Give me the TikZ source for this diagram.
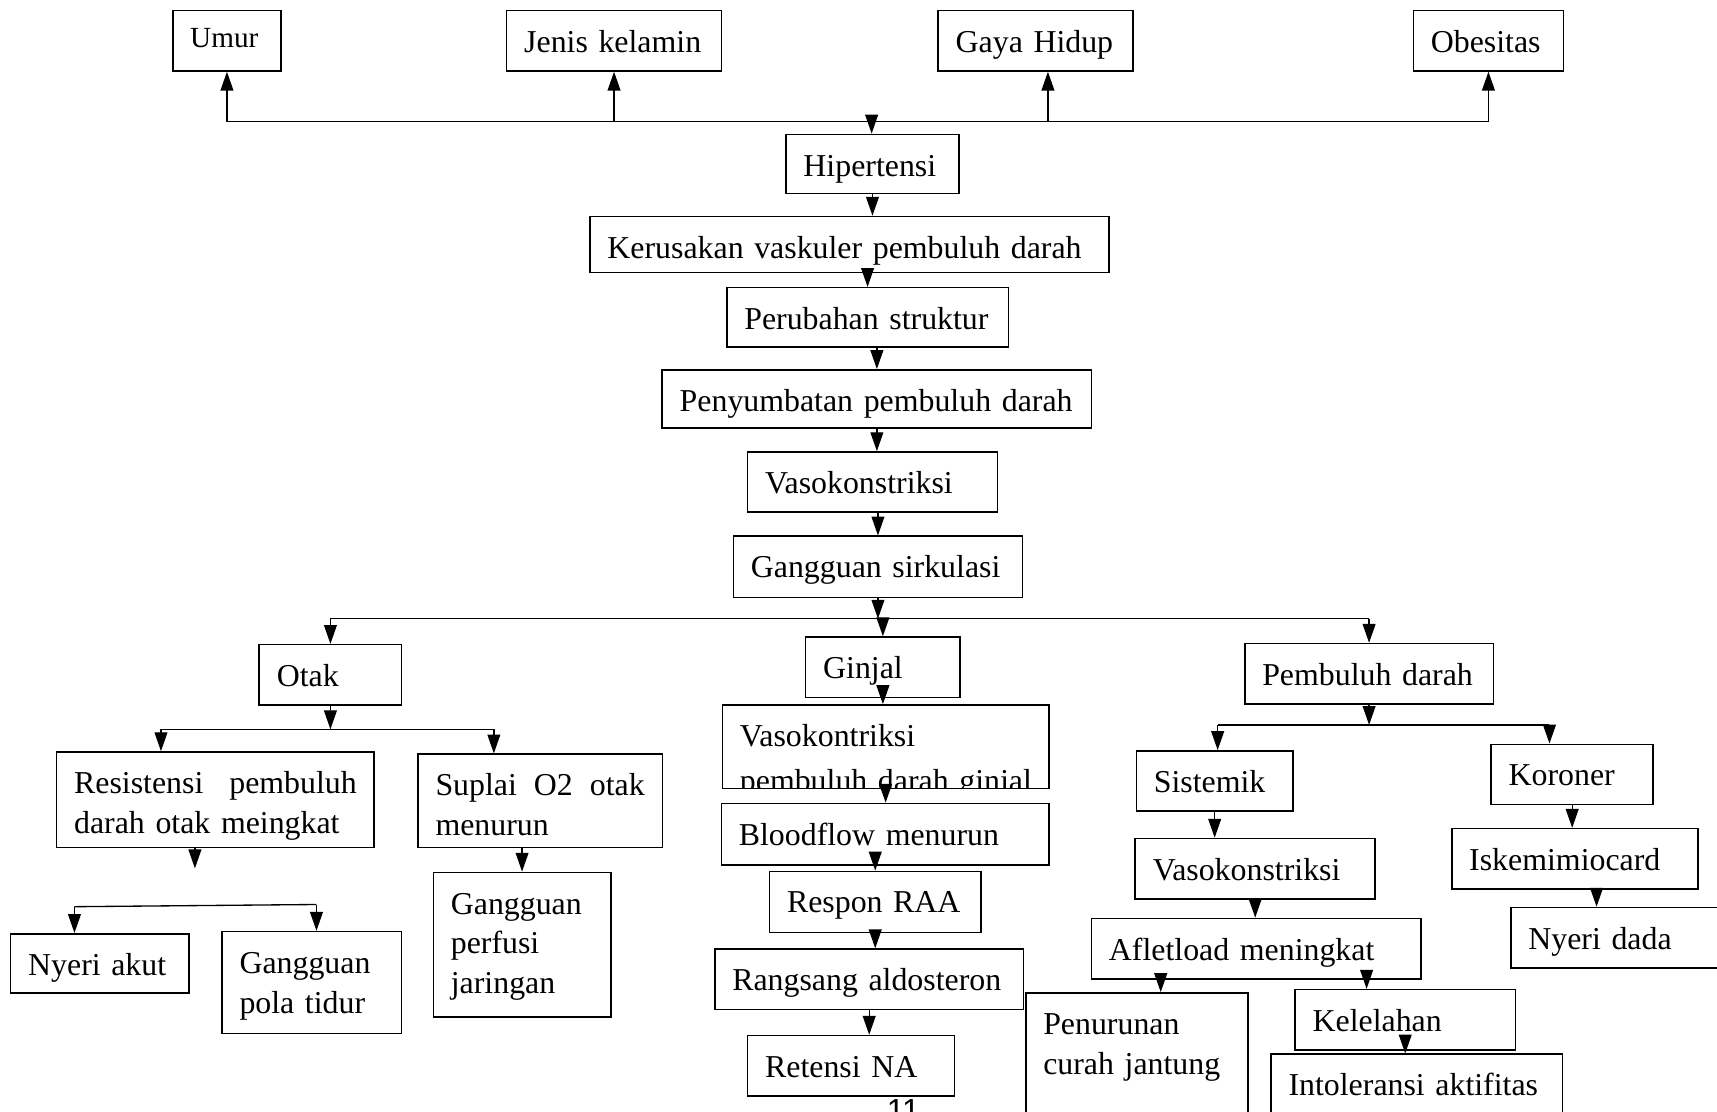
\documentclass[tikz,border=0pt]{standalone}
\usepackage{fontspec}
\setmainfont{Liberation Serif}
\setsansfont{Liberation Sans}
\usepackage{tikz}
\usetikzlibrary{arrows.meta,calc,positioning}
\tikzstyle{edge}  =[-{Triangle[length=0.25cm,width=0.17cm]},
                    line width=0.5pt]
\tikzstyle{bus}   =[line width=0.5pt]
\tikzstyle{box}   =[draw, rectangle, anchor=north west, align=left,
                    line width=0.6pt, inner xsep=0.232cm, inner ysep=0pt,
                    text height=0.551cm,
                    font=\fontsize{12}{15}\selectfont]

\begin{document}
\begin{tikzpicture}[x=0.0145cm,y=-0.0145cm]
    \useasboundingbox (0,0) rectangle (1568,1015);

    % faktor risiko
    \node (umur)  [box, text width=0.972cm, text height=0.486cm, text depth=0.312cm,
                   font=\fontsize{11}{13}\selectfont] at (157,9) {Umur};
    \node (jenis) [box, text width=2.378cm, text depth=0.247cm] at (462,9) {Jenis kelamin};
    \node (gaya)  [box, text width=2.117cm, text depth=0.247cm] at (856,9) {Gaya Hidup};
    \node (obes)  [box, text width=1.523cm, text depth=0.247cm] at (1290,9) {Obesitas};

    % alur utama
    \node (hip)    [box, text width=1.827cm, text depth=0.232cm] at (717,122) {Hipertensi};
    \node (ker)    [box, text width=6.409cm, text depth=0.189cm] at (538,197) {Kerusakan vaskuler pembuluh darah};
    \node (per)    [box, text width=3.263cm, text depth=0.232cm] at (663,262) {Perubahan struktur};
    \node (sumbat) [box, text width=5.220cm, text depth=0.218cm] at (604,337) {Penyumbatan pembuluh darah};
    \node (vaso)   [box, text width=2.842cm, text depth=0.247cm] at (682,412) {Vasokonstriksi};
    \node (sirk)   [box, text width=3.364cm, text depth=0.261cm] at (669,489) {Gangguan sirkulasi};

    % otak
    \node (otak)    [box, text width=1.421cm, text depth=0.247cm] at (236,588) {Otak};
    \node (resis)   [box, text width=3.741cm, text depth=0.711cm] at (51,686)
                    {Resistensi\hfill pembuluh\\darah otak meingkat};
    \node (suplai)  [box, text width=2.770cm, text depth=0.682cm] at (381,688)
                    {Suplai\hfill O2\hfill otak\\menurun};
    \node (nyeri)   [box, text width=1.900cm, text depth=0.232cm] at (9,852) {Nyeri akut};
    \node (tidur)   [box, text width=1.914cm, text depth=0.798cm] at (202,850) {Gangguan\\pola tidur};
    \node (perfusi) [box, text width=1.885cm, text depth=1.363cm] at (395,796)
                    {Gangguan\\perfusi\\jaringan};

    % ginjal
    \node (ginjal) [box, text width=1.581cm, text depth=0.247cm] at (735,581) {Ginjal};
    \begin{scope}
        \clip (650,635) rectangle (965,720.4);
        \node (vpg) [box, text width=3.857cm, text depth=0.566cm]
                    at (659,643) {Vasokontriksi\\[2pt]\mbox{pembuluh darah ginjal}};
    \end{scope}
    \node (blood)   [box, text width=3.872cm, text depth=0.261cm] at (658,733) {Bloodflow menurun};
    \node (raa)     [box, text width=2.335cm, text depth=0.261cm] at (702,795) {Respon RAA};
    \node (aldo)    [box, text width=3.625cm, text depth=0.247cm] at (652,866) {Rangsang aldosteron};
    \node (retensi) [box, text width=2.277cm, text depth=0.247cm] at (682,945) {Retensi NA};

    % pembuluh darah
    \node (pd)    [box, text width=2.828cm, text depth=0.247cm] at (1136,587) {Pembuluh darah};
    \node (sis)   [box, text width=1.610cm, text depth=0.247cm] at (1037,685) {Sistemik};
    \node (vk2)   [box, text width=2.712cm, text depth=0.247cm] at (1036,765) {Vasokonstriksi};
    \node (aft)   [box, text width=3.901cm, text depth=0.247cm] at (996,838) {Afletload meningkat};
    \node (curah) [box, text width=2.480cm, text depth=1.6cm]
                  at (936,906) {Penurunan\\curah jantung};
    \node (kel)   [box, text width=2.451cm, text depth=0.247cm] at (1182,903) {Kelelahan};
    \node (into)  [box, text width=3.393cm, text depth=1.0cm]
                  at (1160,962) {Intoleransi aktifitas};
    \node (kor)   [box, text width=1.682cm, text depth=0.247cm] at (1361,679) {Koroner};
    \node (isk)   [box, text width=2.799cm, text depth=0.247cm] at (1325,756) {Iskemimiocard};
    \node (dada)  [box, text width=2.726cm, text depth=0.247cm] at (1379,828) {Nyeri dada};

    \node (hal) [font=\sffamily\fontsize{12}{14}\selectfont, anchor=base, inner sep=0pt]
                at (825,1024) {11};

    % garis atas
    \coordinate (bus1) at (796,111);
    \coordinate (g1) at (957,111);
    \draw [bus] (umur.south |- bus1) -- (obes.south |- bus1);
    \foreach \n in {umur,jenis,obes}
        \draw [edge] (\n.south |- bus1) -- (\n.south);
    \draw [edge] (g1) -- (g1 |- gaya.south);
    \draw [edge] (bus1) -- (bus1 |- hip.north);

    \foreach \i/\j in {hip/ker,sumbat/vaso}
        \draw [edge] (\i.south) -- (\i.south |- \j.north);
    \foreach \i/\j in {ker/per,per/sumbat,vaso/sirk}
        \draw [edge] (\j.north |- \i.south) -- (\j.north);

    % cabang
    \coordinate (bus2) at (803,565);
    \draw [edge] (sirk.south) -- (sirk.south |- bus2);
    \draw [bus] (otak.north |- bus2) -- (pd.north |- bus2);
    \foreach \n in {otak,ginjal,pd}
        \draw [edge] (\n.north |- bus2) -- (\n.north);

    % otak
    \coordinate (o1) at (147,666);
    \coordinate (o2) at (451,666);
    \draw [edge] (otak.south) -- (otak.south |- o1);
    \draw [bus] (o1) -- (o2);
    \draw [edge] (o1) -- (o1 |- resis.north);
    \draw [edge] (o2) -- (o2 |- suplai.north);
    \coordinate (r1) at (178,793);
    \draw [edge] (r1 |- resis.south) -- (r1);
    \coordinate (n1) at (68,828);
    \coordinate (n2) at (289,826);
    \draw [bus] (n1) -- (n2);
    \draw [edge] (n1) -- (n1 |- nyeri.north);
    \draw [edge] (n2) -- (n2 |- tidur.north);
    \draw [edge] (perfusi.north |- suplai.south) -- (perfusi.north);

    % ginjal
    \foreach \i/\j in {ginjal/vpg,vpg/blood,raa/aldo,aldo/retensi}
        \draw [edge] (\i.south) -- (\i.south |- \j.north);
    \draw [edge] (raa.north |- blood.south) -- (raa.north);

    % pembuluh darah
    \coordinate (p1) at (1112,662);
    \coordinate (p2) at (1415,662);
    \draw [edge] (pd.south) -- (pd.south |- p1);
    \draw [bus] (p1) -- (p2);
    \draw [edge] (p1) -- (p1 |- sis.north);
    \draw [edge] (p2) -- (p2 |- kor.north);
    \foreach \i/\j in {sis/vk2,vk2/aft,kel/into,kor/isk}
        \draw [edge] (\i.south) -- (\i.south |- \j.north);
    \coordinate (a1) at (1060,893);
    \coordinate (a2) at (1248,893);
    \draw [edge] (a1 |- aft.south) -- (a1 |- curah.north);
    \draw [edge] (a2 |- aft.south) -- (a2 |- kel.north);
    \coordinate (k1) at (1458,811);
    \draw [edge] (k1 |- isk.south) -- (k1 |- dada.north);
\end{tikzpicture}
\end{document}
